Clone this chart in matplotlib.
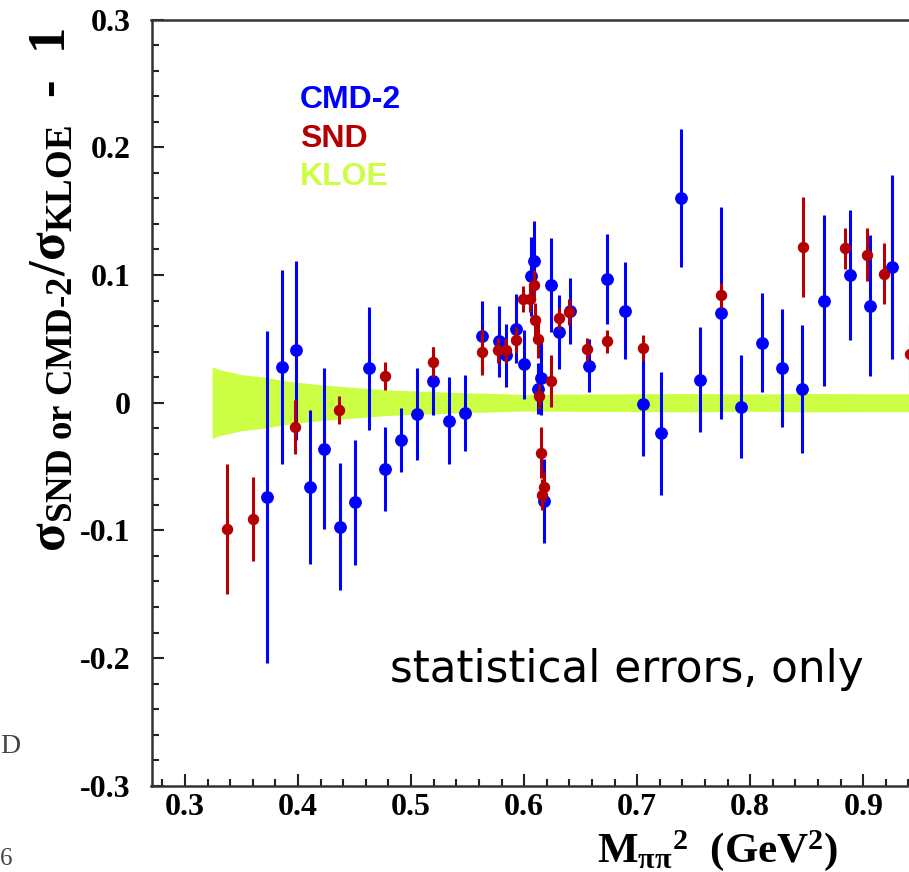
import numpy as np
import matplotlib
matplotlib.use("Agg")
import matplotlib.pyplot as plt
from matplotlib import ticker

plt.rcParams['mathtext.fontset'] = 'custom'
plt.rcParams['mathtext.rm'] = 'Liberation Serif:bold'
plt.rcParams['mathtext.it'] = 'Liberation Serif:bold'
plt.rcParams['mathtext.bf'] = 'Liberation Serif:bold'
plt.rcParams['mathtext.default'] = 'rm'
plt.rcParams['axes.unicode_minus'] = False

# KLOE band (relative error around zero)
kloe_x = [0.324, 0.330, 0.340, 0.350, 0.370, 0.390, 0.420, 0.450, 0.480,
          0.510, 0.550, 0.600, 0.650, 0.700, 0.750, 0.800, 0.850, 0.900, 1.000]
kloe_err = [0.028, 0.026, 0.024, 0.022, 0.020, 0.017, 0.014, 0.012, 0.010,
            0.009, 0.0078, 0.0065, 0.0068, 0.0070, 0.0072, 0.0068, 0.0072, 0.0070, 0.0070]

# CMD-2 points
cmd_x = [0.373, 0.386, 0.398, 0.411, 0.423, 0.437, 0.450, 0.463, 0.477, 0.491,
         0.505, 0.519, 0.534, 0.548, 0.563, 0.578, 0.584, 0.593, 0.600, 0.606,
         0.609, 0.612, 0.615, 0.618, 0.624, 0.631, 0.641, 0.657, 0.673, 0.689,
         0.705, 0.721, 0.739, 0.756, 0.774, 0.792, 0.810, 0.828, 0.846, 0.865,
         0.888, 0.906, 0.925]
cmd_y = [-0.074, 0.028, 0.041, -0.066, -0.036, -0.097, -0.078, 0.027, -0.052, -0.029,
         -0.009, 0.017, -0.014, -0.008, 0.052, 0.048, 0.037, 0.058, 0.030, 0.099,
         0.111, 0.011, 0.019, -0.077, 0.092, 0.055, 0.072, 0.029, 0.097, 0.072,
         -0.001, -0.024, 0.160, 0.018, 0.070, -0.003, 0.047, 0.027, 0.011, 0.080,
         0.100, 0.076, 0.106]
cmd_err = [0.130, 0.076, 0.070, 0.060, 0.063, 0.050, 0.049, 0.048, 0.033, 0.025,
           0.036, 0.027, 0.034, 0.030, 0.028, 0.028, 0.025, 0.027, 0.027, 0.031,
           0.031, 0.020, 0.029, 0.033, 0.037, 0.029, 0.026, 0.021, 0.035, 0.038,
           0.041, 0.048, 0.054, 0.041, 0.083, 0.040, 0.039, 0.046, 0.050, 0.067,
           0.051, 0.055, 0.072]

# SND points
snd_x = [0.337, 0.360, 0.397, 0.436, 0.477, 0.519, 0.563, 0.577, 0.584, 0.593,
         0.599, 0.605, 0.609, 0.610, 0.612, 0.613, 0.615, 0.616, 0.618, 0.624,
         0.631, 0.640, 0.656, 0.673, 0.705, 0.774, 0.847, 0.884, 0.903, 0.918,
         0.941]
snd_y = [-0.099, -0.091, -0.019, -0.006, 0.021, 0.032, 0.040, 0.041, 0.041, 0.049,
         0.081, 0.081, 0.092, 0.065, 0.050, 0.005, -0.039, -0.072, -0.066, 0.017,
         0.066, 0.071, 0.042, 0.048, 0.043, 0.084, 0.122, 0.121, 0.116, 0.101,
         0.038]
snd_err = [0.051, 0.033, 0.021, 0.011, 0.011, 0.012, 0.018, 0.010, 0.010, 0.010,
           0.010, 0.010, 0.012, 0.013, 0.015, 0.010, 0.020, 0.012, 0.012, 0.020,
           0.008, 0.010, 0.009, 0.009, 0.010, 0.010, 0.039, 0.016, 0.021, 0.024,
           0.024]

blue = '#0000ff'
red = '#b40000'
green = '#ccff44'

fig = plt.figure(figsize=(9.09, 8.72), dpi=100)
ax = fig.add_axes([151.5 / 909, 86.2 / 872, (1.0 - 0.2704) * 1130.5 / 909, 766.2 / 872])

kx = np.array(kloe_x)
ke = np.array(kloe_err)
ax.fill_between(kx, -ke, ke, color=green, lw=0, zorder=1)

ax.errorbar(cmd_x, cmd_y, yerr=cmd_err, fmt='o', color=blue, ms=8.2,
            elinewidth=2.2, capsize=0, zorder=3)
ax.errorbar(snd_x, snd_y, yerr=snd_err, fmt='o', color=red, ms=7.2,
            elinewidth=2.2, capsize=0, zorder=4)

ax.set_xlim(0.2704, 1.0)
ax.set_ylim(-0.3, 0.3)


def tick_fmt(v, p):
    if abs(v) < 1e-9:
        return '0'
    if v > 0.95:
        return ''
    return '%.1f' % v


ax.xaxis.set_major_locator(ticker.MultipleLocator(0.1))
ax.xaxis.set_minor_locator(ticker.MultipleLocator(0.02))
ax.yaxis.set_major_locator(ticker.MultipleLocator(0.1))
ax.yaxis.set_minor_locator(ticker.MultipleLocator(0.02))
ax.xaxis.set_major_formatter(ticker.FuncFormatter(tick_fmt))
ax.yaxis.set_major_formatter(ticker.FuncFormatter(tick_fmt))

ax.tick_params(which='both', direction='in', top=False, right=False, width=1.5, color='#222222')
ax.tick_params(which='major', length=8.5)
ax.tick_params(which='minor', length=5)
ax.tick_params(axis='x', which='major', pad=5)
ax.tick_params(axis='y', which='major', pad=15)
for lab in ax.get_xticklabels() + ax.get_yticklabels():
    lab.set_fontfamily('Liberation Serif')
    lab.set_fontweight('bold')
    lab.set_fontsize(23)

ax.spines['right'].set_visible(False)
for s in ['left', 'bottom', 'top']:
    ax.spines[s].set_linewidth(1.8)
    ax.spines[s].set_color('#333333')

# legend-like labels
fig.text(300 / 909, 1 - 108 / 872, 'CMD-2', color=blue, family='Liberation Sans',
         weight='bold', size=23)
fig.text(300 / 909, 1 - 147 / 872, 'SND', color=red, family='Liberation Sans',
         weight='bold', size=23)
fig.text(300 / 909, 1 - 185 / 872, 'KLOE', color=green, family='Liberation Sans',
         weight='bold', size=23)

fig.text(390 / 909, 1 - 682 / 872, 'statistical errors, only', color='black',
         family='DejaVu Sans', size=31.5)

# axis titles
fig.text(52 / 909, 1 - 290 / 872,
         r'$\sigma_{\text{SND or CMD-2}}/\sigma_{\text{KLOE}}$  -  1',
         rotation=90, ha='center', va='center', family='Liberation Serif',
         weight='bold', size=38)
fig.text(838 / 909, 1 - 862 / 872, r'$M_{\pi\pi}{}^{2}$  (GeV$^{2}$)',
         ha='right', va='baseline', family='Liberation Serif', weight='bold', size=31)

# fragments from neighbouring slide content
fig.text(0, 1 - 753 / 872, 'D', family='Liberation Serif', size=20, color='#444444')
fig.text(0, 0.002, '6', family='Liberation Serif', size=18, color='#444444',
         va='bottom')

fig.savefig('out.png', dpi=100)
